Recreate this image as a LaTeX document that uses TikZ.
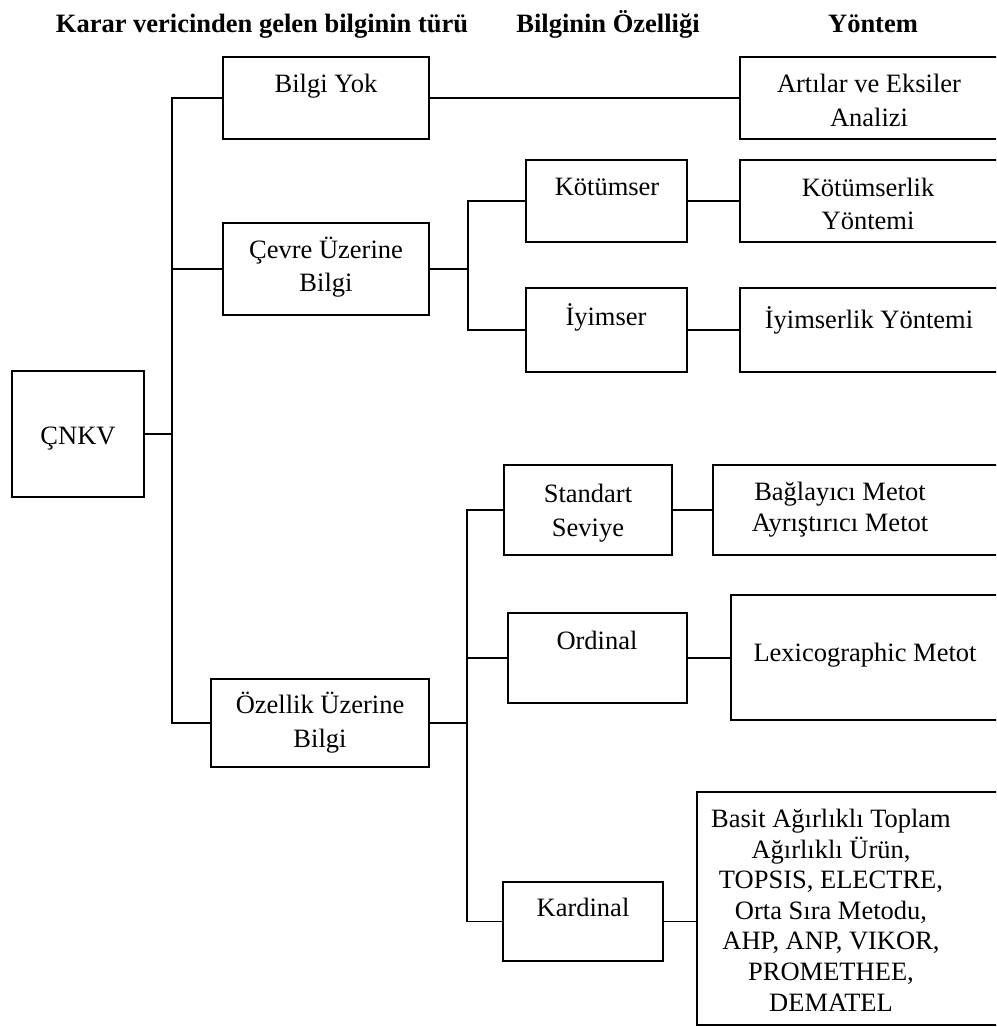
\documentclass[tikz,border=0pt]{standalone}
\usepackage{fontspec}
\setmainfont{Liberation Serif}
\usetikzlibrary{fit}
\begin{document}
\begin{tikzpicture}[x=0.5pt,y=-0.5pt,
  box/.style={draw=black, line width=0.85pt, inner sep=0pt, rectangle},
  txt/.style={font=\fontsize{13.25}{17}\selectfont, align=center, inner sep=0pt, anchor=base},
  tight/.style={font=\fontsize{13.25}{15.3}\selectfont},
  head/.style={font=\fontsize{13.25}{16}\selectfont\bfseries, inner sep=0pt, anchor=base},
  link/.style={line width=0.85pt}]
\useasboundingbox (0,0) rectangle (996,1027);
\clip (0,0) rectangle (996,1027);

% column headings
\node[head] (h1) at (262,33) {Karar vericinden gelen bilginin türü};
\node[head] (h2) at (608,33) {Bilginin Özelliği};
\node[head] (h3) at (873,33) {Yöntem};

% boxes
\node[box, fit={(12,371) (144,497)}] (cnkv) {};
\node[box, fit={(223,57) (429,139)}] (yok) {};
\node[box, fit={(740,57) (998,139)}] (arti) {};
\node[box, fit={(223,223) (429,315)}] (cevre) {};
\node[box, fit={(526,160) (687,242)}] (kot) {};
\node[box, fit={(526,288) (687,372)}] (iyi) {};
\node[box, fit={(740,160) (998,242)}] (kotY) {};
\node[box, fit={(740,288) (998,372)}] (iyiY) {};
\node[box, fit={(211,679) (429,767)}] (ozel) {};
\node[box, fit={(504,465) (672,555)}] (std) {};
\node[box, fit={(713,465) (998,555)}] (bag) {};
\node[box, fit={(508,613) (687,703)}] (ord) {};
\node[box, fit={(731,595) (998,720)}] (lex) {};
\node[box, fit={(503,882) (663,961)}] (kard) {};
\node[box, fit={(697,792) (998,1025)}] (cok) {};

% box texts (anchored at the baseline of their last line)
\node[txt] (tcnkv) at (78,444) {ÇNKV};
\node[txt] (tyok) at (326,93) {Bilgi Yok};
\node[txt] (tarti) at (869,127) {Artılar ve Eksiler\\Analizi};
\node[txt] (tcevre) at (326,292) {Çevre Üzerine\\Bilgi};
\node[txt] (tkot) at (607,196) {Kötümser};
\node[txt] (tiyi) at (606,325) {İyimser};
\node[txt] (tkotY) at (868,230) {Kötümserlik\\Yöntemi};
\node[txt] (tiyiY) at (869,328) {İyimserlik Yöntemi};
\node[txt] (tozel) at (320,747) {Özellik Üzerine\\Bilgi};
\node[txt] (tstd) at (588,536) {Standart\\Seviye};
\node[txt, tight] (tbag) at (840,531) {Bağlayıcı Metot\\Ayrıştırıcı Metot};
\node[txt] (tord) at (597,649) {Ordinal};
\node[txt] (tlex) at (865,661) {Lexicographic Metot};
\node[txt] (tkard) at (583,916) {Kardinal};
\node[txt, tight] (tcok) at (831,1011) {Basit Ağırlıklı Toplam\\Ağırlıklı Ürün,\\TOPSIS, ELECTRE,\\Orta Sıra Metodu,\\AHP, ANP, VIKOR,\\PROMETHEE,\\DEMATEL};

% trunk positions
\coordinate (trunk) at (172,0);
\coordinate (sub1) at (468,0);
\coordinate (sub2) at (467,0);

% connectors
\draw[link] (cnkv.east) -- (cnkv.east -| trunk);
\draw[link] (yok.west) -- (yok.west -| trunk) -- (ozel.west -| trunk) -- (ozel.west);
\draw[link] (cevre.west) -- (cevre.west -| trunk);
\draw[link] (yok.east) -- (yok.east -| arti.west);
\draw[link] (cevre.east) -- (cevre.east -| sub1);
\draw[link] (kot.west) -- (kot.west -| sub1) -- (iyi.west -| sub1) -- (iyi.west);
\draw[link] (kot.east) -- (kot.east -| kotY.west);
\draw[link] (iyi.east) -- (iyi.east -| iyiY.west);
\draw[link] (ozel.east) -- (ozel.east -| sub2);
\draw[link] (std.west) -- (std.west -| sub2) -- (kard.west -| sub2) -- (kard.west);
\draw[link] (ord.west) -- (ord.west -| sub2);
\draw[link] (std.east) -- (std.east -| bag.west);
\draw[link] (ord.east) -- (ord.east -| lex.west);
\draw[link] (kard.east) -- (kard.east -| cok.west);
\end{tikzpicture}
\end{document}
